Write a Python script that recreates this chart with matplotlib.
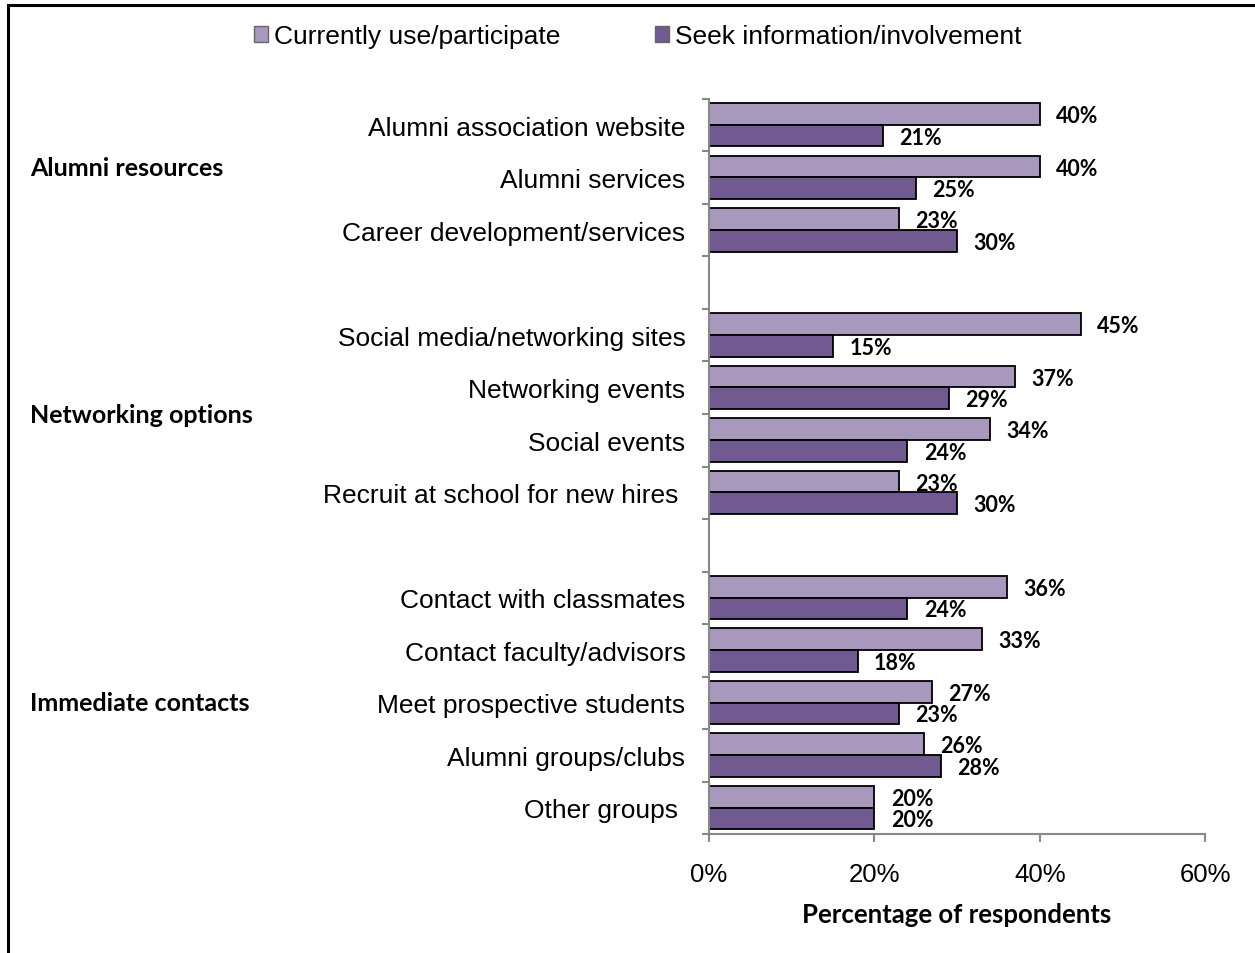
import matplotlib.pyplot as plt
from matplotlib.lines import Line2D
from matplotlib.patches import Patch
from matplotlib.transforms import blended_transform_factory
import numpy as np

# Data
groups = ['Alumni resources', 'Networking options', 'Immediate contacts']
items = [
    ['Alumni association website', 'Alumni services', 'Career development/services'],
    ['Social media/networking sites', 'Networking events', 'Social events',
     'Recruit at school for new hires '],
    ['Contact with classmates', 'Contact faculty/advisors', 'Meet prospective students',
     'Alumni groups/clubs', 'Other groups '],
]
current_use = [[40, 40, 23], [45, 37, 34, 23], [36, 33, 27, 26, 20]]
seek_info = [[21, 25, 30], [15, 29, 24, 30], [24, 18, 23, 28, 20]]

series_names = ['Currently use/participate', 'Seek information/involvement']
light = '#A898BE'
dark = '#715A8F'

label_font = ['Liberation Sans', 'DejaVu Sans']
bold_font = ['Lato', 'DejaVu Sans']

# Slot positions: one empty slot between groups
slots, labels, vals_c, vals_s, group_centres = [], [], [], [], []
pos = 0
for g, names in enumerate(items):
    start = pos
    for k, name in enumerate(names):
        slots.append(pos)
        labels.append(name)
        vals_c.append(current_use[g][k])
        vals_s.append(seek_info[g][k])
        pos += 1
    group_centres.append((start + pos) / 2)
    pos += 1
n_slots = pos - 1
slots = np.array(slots)

fig = plt.figure(figsize=(12.55, 9.54), dpi=100)
ax = fig.add_axes([0.565, 0.1247, 0.3952, 0.7705])

h = 0.41
y_c = slots + 0.29
y_s = slots + 0.70
ax.barh(y_c, vals_c, height=h, color=light, edgecolor='black', linewidth=1.3)
ax.barh(y_s, vals_s, height=h, color=dark, edgecolor='black', linewidth=1.3)

for y, v in zip(y_c, vals_c):
    ax.annotate(f'{v}%', (v, y), xytext=(27, -1), textcoords='offset points',
                ha='center', va='center', fontsize=15.5, fontweight='bold', family=bold_font)
for y, v in zip(y_s, vals_s):
    ax.annotate(f'{v}%', (v, y), xytext=(27, -1), textcoords='offset points',
                ha='center', va='center', fontsize=15.5, fontweight='bold', family=bold_font)

ax.set_xlim(0, 60)
ax.set_ylim(n_slots, 0)
ax.set_xticks([0, 20, 40, 60])
ax.set_xticklabels(['0%', '20%', '40%', '60%'], fontsize=18.5, family=label_font)
ax.tick_params(axis='x', length=6, width=1.5, color='#888888', pad=14)

ax.set_yticks(np.arange(0, n_slots + 1))
ax.set_yticklabels([])
ax.set_yticks(slots + 0.5, minor=True)
ax.set_yticklabels(labels, minor=True, fontsize=19, family=label_font)
ax.tick_params(axis='y', which='major', length=5, width=1.5, color='#888888')
ax.tick_params(axis='y', which='minor', length=0, pad=17)

for s in ['top', 'right']:
    ax.spines[s].set_visible(False)
for s in ['left', 'bottom']:
    ax.spines[s].set_color('#888888')
    ax.spines[s].set_linewidth(1.5)

ax.set_xlabel('Percentage of respondents', fontsize=18.5, fontweight='bold',
              family=bold_font, labelpad=12)

# group labels on the far left
trans = blended_transform_factory(fig.transFigure, ax.transData)
nudge = [-0.2, 0, 0]
for name, yc, dy in zip(groups, group_centres, nudge):
    ax.text(30 / 1255, yc + dy, name, transform=trans,
            ha='left', va='center', fontsize=18, fontweight='bold', family=bold_font)

handles = [Patch(facecolor=light, edgecolor='#666666'), Patch(facecolor=dark, edgecolor='#666666')]
leg = fig.legend(handles, series_names, loc='center', bbox_to_anchor=(0.508, 0.961), ncol=2,
                 frameon=False, handlelength=0.55, handleheight=0.55, handletextpad=0.2,
                 columnspacing=3.6, prop={'family': label_font, 'size': 19})

# frame lines along the top and left edge
fig.add_artist(Line2D([8 / 1255, 8 / 1255], [0, 1 - 6 / 954], color='black', linewidth=2.2))
fig.add_artist(Line2D([8 / 1255, 1], [1 - 6 / 954, 1 - 6 / 954], color='black', linewidth=2.2))

fig.savefig('out.png', dpi=100)
